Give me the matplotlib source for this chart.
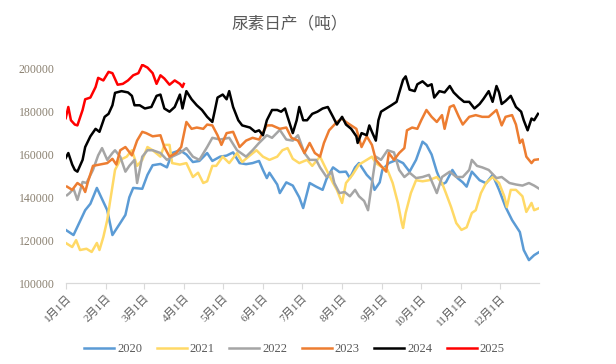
import numpy as np
import matplotlib
matplotlib.use("Agg")
import matplotlib.pyplot as plt

plt.rcParams['font.family'] = ['Liberation Serif', 'Noto Sans CJK SC', 'DejaVu Sans']

# day of year (0 = 1月1日) and daily output in thousand tonnes
days_2020 = [0, 6, 15, 19, 24, 32, 36, 42, 46, 49, 52, 59, 63, 67, 73, 78, 82, 88, 93, 98,
             103, 109, 113, 119, 124, 129, 134, 139, 144, 149, 152, 155, 157, 163, 165, 170,
             175, 180, 183, 188, 193, 198, 201, 206, 211, 216, 219, 223, 226, 232, 236, 238,
             242, 244, 249, 255, 260, 265, 270, 275, 278, 282, 286, 290, 293, 298, 302, 306,
             309, 313, 319, 324, 329, 334, 339, 344, 350, 353, 357, 361, 365]
vals_2020 = [124.8, 122.4, 134, 137, 144.4, 134, 122.4, 128, 131.8, 140, 144.4, 144, 150.5,
             155, 155.6, 154, 160.7, 162, 160, 156.5, 157, 160.7, 157, 159, 159.5, 161, 156,
             155.5, 156, 157, 152.8, 149, 151.5, 146, 142, 147, 145.5, 140, 135, 146.7, 145,
             143.5, 148.6, 154, 151.8, 152, 149, 154, 156, 150.5, 148, 143.5, 147, 152.8, 156,
             157.5, 156, 152, 157.5, 166, 164.5, 160, 152, 146, 147, 152.8, 149, 147, 145, 152,
             148, 146.6, 150.5, 143.5, 135.5, 129.4, 123.8, 115.4, 110.7, 113, 114.5]

days_2021 = [0, 5, 8, 11, 16, 20, 24, 26, 29, 32, 34, 38, 42, 47, 51, 55, 59, 63, 67, 73, 76,
             80, 82, 88, 93, 98, 102, 106, 109, 113, 116, 121, 126, 132, 136, 142, 147, 152,
             157, 163, 167, 171, 175, 180, 186, 190, 196, 201, 206, 209, 213, 216, 221, 226,
             232, 236, 239, 244, 248, 252, 256, 259, 260, 262, 266, 270, 275, 280, 286, 290,
             293, 297, 301, 305, 309, 313, 316, 320, 324, 329, 334, 338, 340, 343, 347, 352,
             355, 359, 361, 365]
vals_2021 = [118.7, 116.8, 120, 115.4, 116, 114.5, 118.7, 115.4, 121.5, 129.4, 137.4, 152.8,
             157.5, 159, 162, 154.7, 157.5, 163.5, 162, 159, 164.5, 164.5, 156, 155.3, 156,
             149.5, 151.5, 146.7, 147.5, 154.7, 154.7, 159, 156, 160.7, 156.5, 159.6, 162, 159,
             157.5, 159, 162, 163, 158, 156, 157.5, 154.7, 159, 152.8, 146.7, 143.5, 137.4,
             146.7, 150.5, 155.3, 157.5, 159, 156, 154, 152.8, 146.7, 137.4, 128, 125.7, 132.7,
             142, 148, 147.5, 148, 149.5, 146.7, 142, 135.5, 128, 124.8, 126, 132.7, 134, 142,
             146.7, 149.5, 146.7, 140.5, 135.5, 143.5, 143.5, 140.5, 133.2, 137.4, 134, 135]

days_2022 = [1, 3, 6, 9, 13, 16, 21, 25, 28, 32, 36, 38, 42, 46, 49, 53, 55, 57, 59, 63, 67,
             73, 78, 82, 88, 93, 98, 103, 109, 113, 119, 126, 132, 139, 144, 149, 155, 159,
             165, 170, 175, 179, 184, 188, 193, 196, 201, 205, 207, 211, 215, 219, 223, 226,
             230, 233, 236, 239, 243, 248, 253, 257, 261, 265, 270, 275, 280, 286, 290, 296,
             301, 306, 311, 313, 317, 321, 326, 332, 336, 342, 347, 352, 357, 361, 365]
vals_2022 = [141, 142, 144, 138.8, 147.2, 146.7, 152.8, 159.6, 163, 157.5, 160.7, 162, 159,
             152, 154.7, 157.5, 146.7, 152.8, 159, 162, 162, 160.7, 157.5, 159, 160.7, 163, 159,
             157.5, 163.5, 167.8, 167, 167.8, 162, 159, 162, 165.4, 169, 167.8, 171.5, 167,
             166.5, 169, 160.7, 157.5, 157.5, 154, 149.5, 152, 146.7, 142, 142.5, 140.5, 143.5,
             140.5, 138.3, 134, 146.7, 159, 157.5, 162, 161, 152.8, 149.5, 151.5, 149, 149.5,
             150.5, 142, 149.5, 152, 149.5, 149.5, 152.8, 157.5, 154.7, 154, 152.8, 149, 149.5,
             146.7, 146, 145.5, 146.7, 145.5, 144]

days_2023 = [1, 5, 9, 13, 15, 17, 21, 26, 32, 36, 39, 42, 46, 51, 55, 59, 62, 67, 73, 76, 80,
             85, 89, 93, 97, 101, 106, 109, 113, 117, 120, 124, 129, 134, 139, 144, 149, 155,
             159, 165, 170, 174, 179, 184, 188, 192, 196, 199, 203, 209, 213, 216, 220, 224,
             228, 232, 236, 239, 243, 247, 249, 253, 257, 261, 263, 267, 271, 274, 278, 282,
             286, 290, 292, 296, 299, 303, 306, 311, 316, 321, 326, 332, 336, 339, 344, 347,
             350, 352, 355, 359, 361, 365]
vals_2023 = [145, 143.5, 146.7, 145, 142.5, 147, 154.7, 155.3, 156, 158, 155.3, 162, 163.5,
             159.6, 166.5, 170.6, 170, 168.5, 169, 163.5, 159, 160.7, 163.5, 175.2, 172, 172.6,
             172, 174, 173.6, 169, 164.5, 170, 170.6, 163.5, 166.5, 167.8, 167, 173.6, 173.6,
             172, 172.6, 167.8, 166.5, 160.7, 165.4, 160.7, 159, 165.4, 171.3, 175.2, 176.8,
             175.2, 173.6, 172, 163.5, 168.5, 164.5, 157.5, 154.7, 152, 160.7, 157.5, 160.7,
             163, 171.3, 172.6, 172, 176, 180.8, 177.6, 175.2, 178.4, 172, 182.2, 183, 177.6,
             174, 177.6, 178.4, 177.6, 177.6, 180.8, 173.6, 177.6, 178.4, 174, 165.4, 167, 159,
             156, 157.5, 157.8]

days_2024 = [0, 2, 5, 7, 9, 13, 15, 19, 23, 26, 30, 33, 36, 38, 43, 48, 51, 53, 57, 61, 66,
             70, 73, 76, 80, 84, 88, 90, 93, 97, 101, 105, 109, 113, 115, 117, 121, 124, 126,
             129, 133, 136, 142, 146, 149, 152, 155, 159, 163, 166, 169, 171, 175, 178, 180,
             183, 186, 190, 194, 198, 202, 206, 209, 213, 216, 220, 224, 225, 228, 232, 234,
             236, 239, 241, 243, 247, 251, 255, 257, 260, 262, 265, 269, 271, 275, 279, 282,
             284, 288, 292, 296, 299, 303, 307, 311, 315, 319, 322, 326, 329, 332, 334, 336,
             339, 343, 347, 351, 353, 356, 359, 361, 364]
vals_2024 = [158.4, 160.7, 155.3, 152.8, 152, 157.5, 163.5, 168.5, 172, 170.6, 177.6, 179,
             183, 188.8, 189.6, 189, 187.4, 183, 183, 181.5, 182.2, 187.4, 188, 181.5, 180,
             182.2, 188, 181.5, 189.6, 185.8, 183, 180.8, 177.6, 175.2, 180.8, 186.6, 188,
             185.8, 189.6, 182.2, 176, 173.6, 172.6, 170.6, 171.3, 169, 176, 180.8, 180.8, 180,
             181.5, 177.6, 170, 176, 182.2, 176, 176, 179, 180, 181.5, 182.2, 177.6, 174, 177.6,
             174, 172, 168.5, 165.4, 170, 169, 173.6, 170.6, 166.5, 176, 180, 181.5, 183, 184.6,
             188.8, 194.9, 196.5, 190.3, 189.6, 192.8, 194.2, 192, 192.8, 186.6, 189.6, 189,
             192, 189, 186.6, 184.6, 184.6, 181.5, 183.6, 186, 189.6, 184.6, 192, 189, 183.6,
             185, 187.4, 182.2, 180, 176, 171.3, 176.8, 176, 179]

days_2025 = [0, 2, 4, 7, 9, 13, 15, 19, 23, 25, 29, 33, 36, 40, 44, 48, 52, 56, 59, 63, 67,
             70, 73, 76, 80, 84, 88, 90, 91]
vals_2025 = [177, 182.2, 176, 174, 173.6, 180.8, 185.8, 186.6, 191.5, 195.8, 194.6, 198.6,
             198, 192.6, 193, 194.6, 197, 198, 201.9, 200.6, 198, 193, 197, 195.5, 192.6,
             194.6, 193, 191.5, 193]

years = ['2020', '2021', '2022', '2023', '2024', '2025']
series = [(days_2020, vals_2020), (days_2021, vals_2021), (days_2022, vals_2022),
          (days_2023, vals_2023), (days_2024, vals_2024), (days_2025, vals_2025)]
colors = ['#5B9BD5', '#FFD966', '#A5A5A5', '#ED7D31', '#000000', '#FF0000']

month_days = [0, 31, 60, 91, 121, 152, 182, 213, 244, 274, 305, 335]
month_labels = [f'{m}月1日' for m in range(1, 13)]

fig = plt.figure(figsize=(6.16, 3.64), dpi=100)
ax = fig.add_axes([0.1067, 0.2225, 0.7688, 0.603])

for name, (d, v), c in zip(years, series, colors):
    ax.plot(d, np.array(v) * 1000, color=c, lw=1.8, label=name, solid_joinstyle='round')

ax.set_xlim(0, 365)
ax.set_ylim(100000, 202500)
ax.set_yticks(range(100000, 200001, 20000))
ax.set_xticks(month_days)
ax.set_xticklabels(month_labels, rotation=45, ha='right', rotation_mode='anchor',
                   fontsize=8, color='#595959')
ax.tick_params(axis='y', length=0, pad=8, labelsize=8.5, labelcolor='#8A8070')
ax.tick_params(axis='x', length=4, width=0.8, color='#D9D9D9', pad=3)
for s in ['left', 'right', 'top']:
    ax.spines[s].set_visible(False)
ax.spines['bottom'].set_color('#D9D9D9')
ax.spines['bottom'].set_linewidth(0.9)

fig.text(0.47, 0.933, '尿素日产（吨）', ha='center', va='center', fontsize=12,
         color='#595959', family=['Noto Sans CJK SC'])

fig.legend(loc='center', bbox_to_anchor=(0.478, 0.04), ncol=6, frameon=False,
           fontsize=9, handlelength=2.4, handletextpad=0.2, columnspacing=1.2,
           labelcolor='#595959')

fig.savefig('out.png', dpi=100)
